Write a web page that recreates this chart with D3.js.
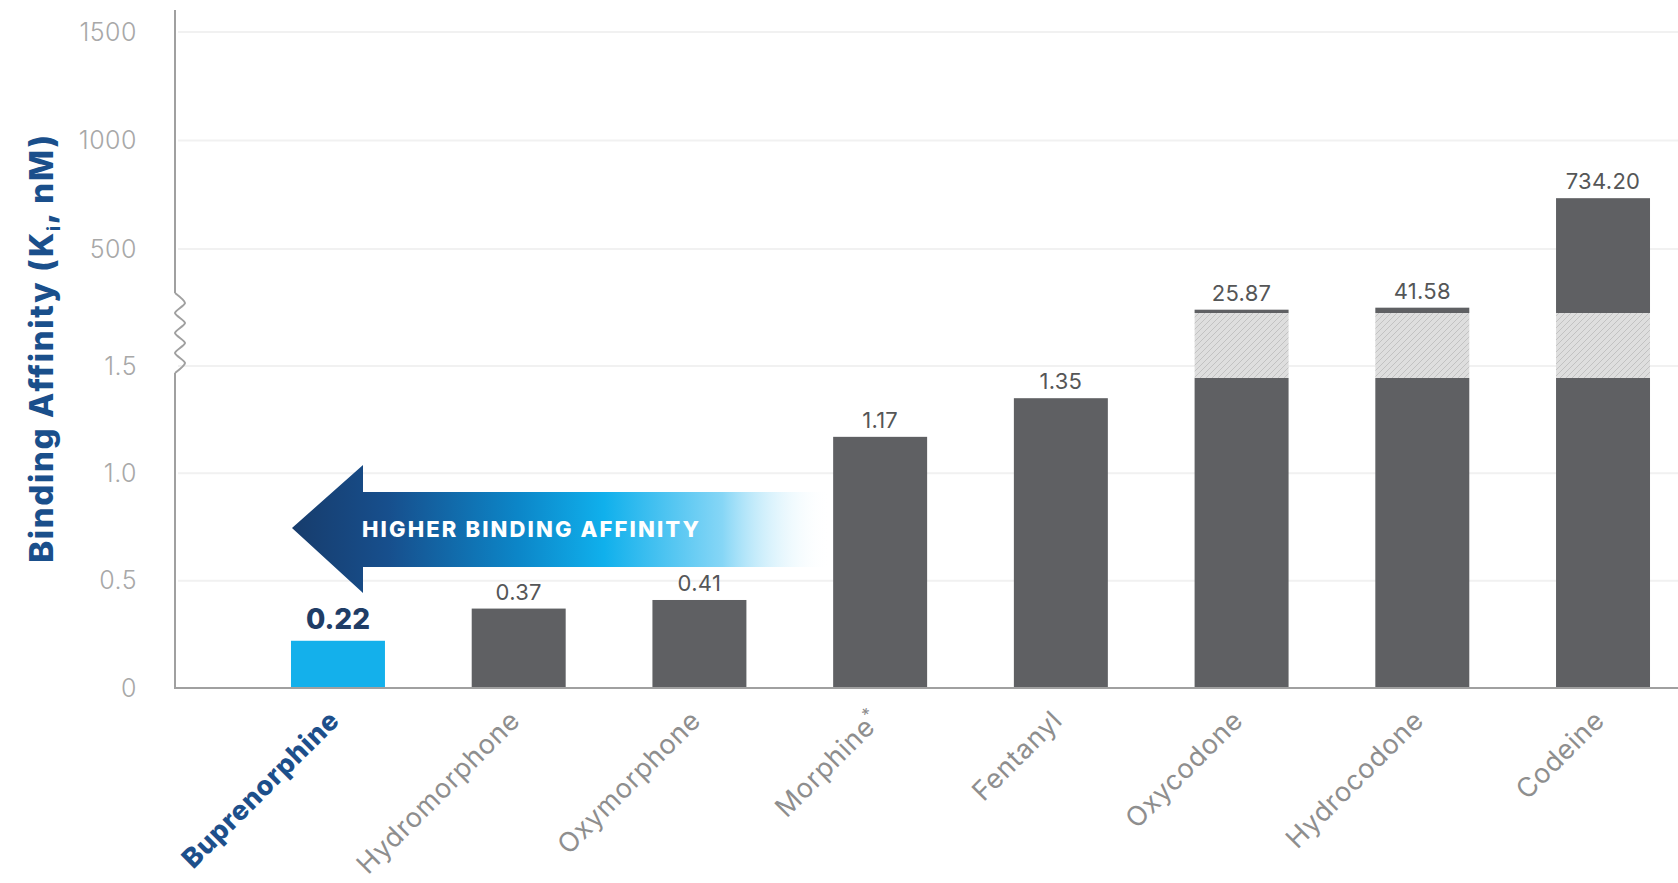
<!DOCTYPE html>
<html>
<head>
<meta charset="utf-8">
<script src="https://cdn.jsdelivr.net/npm/d3@7"></script>
<style>
  html, body { margin: 0; padding: 0; background: #ffffff; }
  svg { display: block; font-family: Inter, "Open Sans", sans-serif; }
</style>
</head>
<body>
<svg id="chart" width="1678" height="883"></svg>
<script>
// Opioid mu-receptor binding affinity (Ki, nM)
const categories = ["Buprenorphine", "Hydromorphone", "Oxymorphone", "Morphine", "Fentanyl", "Oxycodone", "Hydrocodone", "Codeine"];
const kiValues = [0.22, 0.37, 0.41, 1.17, 1.35, 25.87, 41.58, 734.20];
const valueLabels = ["0.22", "0.37", "0.41", "1.17", "1.35", "25.87", "41.58", "734.20"];
const footnoteMarks = ["", "", "", "*", "", "", "", ""];
const lowerTicks = [0, 0.5, 1.0, 1.5];
const lowerTickLabels = ["0", "0.5", "1.0", "1.5"];
const upperTicks = [500, 1000, 1500];
const upperTickLabels = ["500", "1000", "1500"];
const highlighted = "Buprenorphine";

const W = 1678, H = 883;
const axisX = 175;
const svg = d3.select("#chart");

// Broken value axis: a linear segment for 0–1.5 nM below the break,
// and a compressed segment above it for the large Ki values.
const yLower = d3.scaleLinear().domain([0, 1.5]).range([688, 366]);
const yUpper = d3.scaleLinear().domain([0, 500, 1500]).range([313, 249, 32]);
const breakBottom = 378, breakTop = 313;
const lowerMax = yLower.domain()[1];

const x = d3.scaleBand().domain(categories).range([244, 1697])
  .paddingInner(0.48).paddingOuter(0.26);

// hatch used inside the break region of the tall bars
const defs = svg.append("defs");
const hatch = defs.append("pattern").attr("id", "breakHatch")
  .attr("patternUnits", "userSpaceOnUse").attr("width", 6).attr("height", 6);
hatch.append("rect").attr("width", 6).attr("height", 6).attr("fill", "#dedede");
hatch.append("path").attr("d", "M-1,1 l2,-2 M0,6 l6,-6 M5,7 l2,-2")
  .attr("stroke", "#c2c2c2").attr("stroke-width", 1);

// arrow gradient: navy head fading through cyan to white
const grad = defs.append("linearGradient").attr("id", "arrowGrad")
  .attr("gradientUnits", "userSpaceOnUse")
  .attr("x1", 292).attr("y1", 0).attr("x2", 830).attr("y2", 0);
[[0, "#173c6c", 1], [0.18, "#174f8d", 1], [0.42, "#0c86c8", 1], [0.58, "#10b0ec", 1],
 [0.8, "#86d6f6", 1], [1, "#ffffff", 0]].forEach(([o, c, op]) =>
  grad.append("stop").attr("offset", o).attr("stop-color", c).attr("stop-opacity", op));

// gridlines
const grid = svg.append("g");
lowerTicks.filter(d => d > 0).forEach(v =>
  grid.append("line").attr("x1", axisX + 3).attr("x2", W)
    .attr("y1", yLower(v)).attr("y2", yLower(v))
    .attr("stroke", "#f1f1f1").attr("stroke-width", 2));
upperTicks.forEach(v =>
  grid.append("line").attr("x1", axisX + 3).attr("x2", W)
    .attr("y1", yUpper(v)).attr("y2", yUpper(v))
    .attr("stroke", "#f1f1f1").attr("stroke-width", 2));

// tick labels for both axis segments
function styleAxis(g) {
  g.select(".domain").remove();
  g.selectAll(".tick line").remove();
  g.selectAll(".tick text")
    .attr("fill", "#a8a8a8")
    .style("font-size", "25px")
    .style("font-weight", 300)
    .style("letter-spacing", "0.5px")
    .style("font-family", "Inter, 'Open Sans', sans-serif");
}
svg.append("g").attr("transform", `translate(${axisX},0)`)
  .call(d3.axisLeft(yLower).tickValues(lowerTicks)
    .tickFormat((d, i) => lowerTickLabels[i]).tickSize(0).tickPadding(38))
  .call(styleAxis);
svg.append("g").attr("transform", `translate(${axisX},0)`)
  .call(d3.axisLeft(yUpper).tickValues(upperTicks)
    .tickFormat((d, i) => upperTickLabels[i]).tickSize(0).tickPadding(38))
  .call(styleAxis);

// vertical axis line with a zigzag marking the break
const axisPts = [[axisX, 293]];
for (let k = 0; k < 8; k++) axisPts.push([k % 2 === 0 ? axisX + 10 : axisX, 303 + k * 10]);
svg.append("path")
  .attr("d", d3.line().curve(d3.curveCardinal.tension(0.3))(axisPts))
  .attr("fill", "none").attr("stroke", "#a0a0a0").attr("stroke-width", 2);
svg.append("line").attr("x1", axisX).attr("x2", axisX).attr("y1", 10).attr("y2", 293)
  .attr("stroke", "#a0a0a0").attr("stroke-width", 2);
svg.append("line").attr("x1", axisX).attr("x2", axisX).attr("y1", 373).attr("y2", 689)
  .attr("stroke", "#a0a0a0").attr("stroke-width", 2);

// bars
const bars = svg.append("g");
categories.forEach((c, i) => {
  const v = kiValues[i];
  const x0 = x(c), bw = x.bandwidth();
  const fill = c === highlighted ? "#14b0eb" : "#5f6063";
  if (v <= lowerMax) {
    bars.append("rect").attr("x", x0).attr("width", bw)
      .attr("y", yLower(v)).attr("height", yLower(0) - yLower(v)).attr("fill", fill);
  } else {
    bars.append("rect").attr("x", x0).attr("width", bw)
      .attr("y", breakBottom).attr("height", yLower(0) - breakBottom).attr("fill", fill);
    bars.append("rect").attr("x", x0).attr("width", bw)
      .attr("y", breakTop).attr("height", breakBottom - breakTop).attr("fill", "url(#breakHatch)");
    bars.append("rect").attr("x", x0).attr("width", bw)
      .attr("y", yUpper(v)).attr("height", breakTop - yUpper(v)).attr("fill", fill);
  }
});

// baseline
svg.append("line").attr("x1", axisX).attr("x2", W).attr("y1", 688).attr("y2", 688)
  .attr("stroke", "#a0a0a0").attr("stroke-width", 2);

// value labels
categories.forEach((c, i) => {
  const v = kiValues[i];
  const top = v <= lowerMax ? yLower(v) : yUpper(v);
  const hi = c === highlighted;
  svg.append("text")
    .attr("x", x(c) + x.bandwidth() / 2)
    .attr("y", top - (hi ? 12 : 9))
    .attr("text-anchor", "middle")
    .attr("fill", hi ? "#1f3d66" : "#555657")
    .style("font-size", hi ? "28px" : "22px")
    .style("font-weight", hi ? 800 : 400)
    .style("letter-spacing", hi ? "0px" : "0.3px")
    .text(valueLabels[i]);
});

// category labels, rotated
categories.forEach((c, i) => {
  const hi = c === highlighted;
  const cx = x(c) + x.bandwidth() / 2;
  const t = svg.append("text")
    .attr("transform", `translate(${cx + 3},${722}) rotate(-45)`)
    .attr("text-anchor", "end")
    .attr("fill", hi ? "#1d4f8b" : "#8e8e8e")
    .style("font-size", "27px")
    .style("letter-spacing", "0.7px")
    .style("font-weight", hi ? 800 : 400);
  t.append("tspan").text(c);
  if (footnoteMarks[i]) {
    t.append("tspan").attr("dy", -11).style("font-size", "17px").text(footnoteMarks[i]);
  }
});

// "higher binding affinity" arrow
svg.append("path")
  .attr("d", "M292,528 L363,465 L363,492 L830,492 L830,567 L363,567 L363,593 Z")
  .attr("fill", "url(#arrowGrad)");
svg.append("text")
  .attr("x", 362).attr("y", 537)
  .attr("fill", "#ffffff")
  .attr("textLength", 337).attr("lengthAdjust", "spacing")
  .style("font-size", "22px").style("font-weight", 800)
  .text("HIGHER BINDING AFFINITY");

// value axis title
const title = svg.append("text")
  .attr("transform", "translate(53,348) rotate(-90)")
  .attr("text-anchor", "middle")
  .attr("fill", "#1a4f8b")
  .style("font-size", "33px").style("font-weight", 800)
  .style("letter-spacing", "1.6px");
title.append("tspan").text("Binding Affinity (K");
title.append("tspan").attr("dy", 7).style("font-size", "18px").text("i");
title.append("tspan").attr("dy", -7).text(", nM)");
</script>
</body>
</html>
